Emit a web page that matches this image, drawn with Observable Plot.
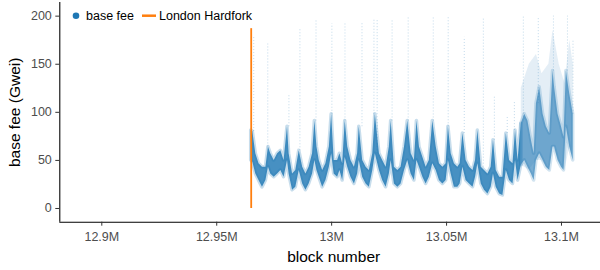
<!DOCTYPE html>
<html><head><meta charset="utf-8">
<script src="https://cdn.jsdelivr.net/npm/d3@7"></script>
<script src="https://cdn.jsdelivr.net/npm/@observablehq/plot@0.6"></script>
<style>
html,body{margin:0;padding:0;background:#fff;}
#chart{width:600px;height:270px;overflow:hidden;}
svg{font-family:"Liberation Sans",Arial,sans-serif;}
g[aria-label="x-axis tick label"], g[aria-label="y-axis tick label"],
g[aria-label="x-axis tick label"] text, g[aria-label="y-axis tick label"] text {font-size:12.5px !important; fill:#4d4d4d !important;}
g[aria-label="x-axis label"], g[aria-label="y-axis label"],
g[aria-label="x-axis label"] text, g[aria-label="y-axis label"] text {font-size:15.5px !important; fill:#000 !important;}
</style>
</head><body><div id="chart"></div>
<script>
// ---- data ----
const blocks = [12965000,12965700,12967000,12968400,12969900,12971400,12972500,12973500,12975000,12976500,
  12977900,12979300,12980800,12981500,12983000,12984400,12985900,12987400,12988800,12990200,
  12991700,12992700,12993600,12994600,12996100,12997500,12999000,13000000,13001100,13002600,
  13003600,13004800,13005900,13007000,13008400,13009900,13011300,13012000,13013500,13015000,
  13016400,13017900,13019000,13020800,13022200,13023700,13025100,13025900,13027300,13028800,
  13030200,13031700,13033100,13034600,13036000,13037100,13038200,13039700,13041100,13042500,
  13044000,13045500,13046900,13048400,13049800,13050800,13052000,13053400,13054900,13055900,
  13057100,13058500,13060000,13061500,13062600,13063600,13065100,13066500,13068000,13069400,
  13070400,13071600,13073100,13074500,13076000,13077400,13078900,13080000,13081100,13082500,
  13084000,13085400,13086900,13088100,13089100,13090500,13092000,13093400,13094900,13096300,
  13097000,13098500,13100000,13101100,13102100,13103600,13105100];
const baseFeeLow = [50,48,36,29,22,29,43,36,32.5,36,
  39.5,32.5,50,36,19,22,39.5,25.5,19,25.5,
  36,50,39.5,32.5,22,29,43,57,36,32.5,
  39.5,29,53,43,32.5,25.5,36,50,32.5,25.5,
  22,39.5,57,39.5,29,22,36,50,25.5,22,
  25.5,39.5,50,36,29,50,43,32.5,25.5,32.5,
  46.5,39.5,29,25.5,29,50,36,22,22,25.5,
  43,29,25.5,22,32.5,46.5,25.5,19,15,22,
  36,22,15,13.5,39.5,29,25.5,50,29,45,
  50,43,36,29,50,57,50,43,39.5,64,
  64,50,43,39.5,85,64,50];
const baseFeeHigh = [81,80,57,46.5,43,43,64,57,50,57,
  60,50,85,57,36,39.5,60,43,36,43,
  57,91,64,50,39.5,46.5,64,98,50,50,
  57,46.5,91,64,50,43,57,85,50,43,
  39.5,57,98,57,50,43,64,91,43,39.5,
  43,64,91,57,50,91,64,53,43,50,
  91,64,46.5,43,46.5,85,57,46.5,43,46.5,
  78,50,43,39.5,50,81,43,39.5,36,43,
  71,39.5,32.5,32.5,78,50,46.5,81,50,88,
  98,91,71,57,109,126,98,85,78,143,
  126,98,85,74,143,119,98];
// block from which the points become a looser cloud
const looseFromBlock = 13082500;
// sparse spikes of single blocks above the dense band
const spikeBlocks = [12966100,12972200,12981400,12986200,12993200,13000100,13005800,13013200,13018400,13019800,
  13026300,13033300,13044200,13050700,13057700,13066000,13070800,13076400,13079500,13083400,
  13089900,13096500,13102600,13105000];
const spikeFrom = [80,64,85,60,91,98,91,85,98,57,91,91,91,85,78,43,71,78,81,95,109,143,143,98];
const spikeTo = [179,171,119,187,195,192,194,194,197,197,195,200,199,199,178,197,116,95,112,199,199,200,200,175];
// loose cloud of points over the last part of the series
const cloudBlocks = [13082500,13086000,13089100,13091500,13094500,13096300,13099000,13101500,13103600,13105100];
const cloudLow = [45,40,50,50,40,64,50,40,64,50];
const cloudHigh = [125,150,160,140,150,185,150,130,175,150];
// London hardfork marker
const hardforkBlock = [12965000];
const hardforkFrom = [0];
const hardforkTo = [187];
// axes
const xTicks = [12900000,12950000,13000000,13050000,13100000];
const xTickLabels = ["12.9M","12.95M","13M","13.05M","13.1M"];
const yTicks = [0,50,100,150,200];
const xDomain = [12881727,13120015];
const yDomain = [-14.25,214.2];
const legendLabels = ["base fee","London Hardfork"];

// ---- build tables ----
const band = blocks.map((b,i)=>({block:b, low:baseFeeLow[i], high:baseFeeHigh[i]}));
const bandDense = band.filter(d => d.block <= looseFromBlock);
const bandLoose = band.filter(d => d.block >= looseFromBlock);
const spikes = spikeBlocks.map((b,i)=>({block:b, from:spikeFrom[i], to:spikeTo[i]}));
const cloud = cloudBlocks.map((b,i)=>({block:b, low:cloudLow[i], high:cloudHigh[i]}));
const hardfork = hardforkBlock.map((b,i)=>({block:b, from:hardforkFrom[i], to:hardforkTo[i]}));

const blue = "#1f77b4", orange = "#ff7f0e";

const plot = Plot.plot({
  width: 600, height: 270,
  marginLeft: 59.3, marginRight: -7, marginTop: 2, marginBottom: 48.3,
  style: {fontFamily: "Liberation Sans, Arial, sans-serif", fontSize: "12.5px", background: "#fff", color: "#000"},
  x: {domain: xDomain},
  y: {domain: yDomain},
  marks: [
    Plot.areaY(cloud, {x: "block", y1: "low", y2: "high", fill: blue, fillOpacity: 0.12, curve: "linear"}),
    Plot.ruleX(spikes, {x: "block", y1: "from", y2: "to", stroke: blue, strokeOpacity: 0.28, strokeWidth: 1, strokeDasharray: "1,2"}),
    Plot.areaY(bandDense, {x: "block", y1: "low", y2: "high", fill: blue, fillOpacity: 0.82, stroke: blue, strokeOpacity: 0.25, strokeWidth: 3.5, curve: "linear"}),
    Plot.areaY(bandLoose, {x: "block", y1: "low", y2: "high", fill: blue, fillOpacity: 0.6, stroke: blue, strokeOpacity: 0.2, strokeWidth: 3.5, curve: "linear"}),
    Plot.ruleX(hardfork, {x: "block", y1: "from", y2: "to", stroke: orange, strokeWidth: 1.8}),
    Plot.ruleX([xDomain[0]], {stroke: "#000", strokeWidth: 1.07}),
    Plot.ruleY([yDomain[0]], {stroke: "#000", strokeWidth: 1.07}),
    Plot.axisX({ticks: xTicks, tickFormat: d => xTickLabels[xTicks.indexOf(d)], tickSize: 4, tickPadding: 6, stroke: "#333",
      label: "block number", labelAnchor: "center", labelOffset: 40, labelArrow: "none"}),
    Plot.axisY({ticks: yTicks, tickSize: 4, tickPadding: 4, stroke: "#333",
      label: "base fee (Gwei)", labelAnchor: "center", labelOffset: 50.5, labelArrow: "none"})
  ]
});

// legend inside the panel, top-left
const svg = d3.select(plot);
const lg = svg.append("g").attr("font-size", 12.5).attr("font-family", "Liberation Sans, Arial, sans-serif")
  .attr("fill", "#000").attr("text-anchor", "start");
lg.append("circle").attr("cx", 76).attr("cy", 15.7).attr("r", 3.3).attr("fill", blue);
lg.append("text").attr("x", 86).attr("y", 20.3).attr("text-anchor", "start").text(legendLabels[0]);
lg.append("line").attr("x1", 142).attr("x2", 156).attr("y1", 15.7).attr("y2", 15.7).attr("stroke", orange).attr("stroke-width", 2.5);
lg.append("text").attr("x", 159).attr("y", 20.3).attr("text-anchor", "start").text(legendLabels[1]);

document.getElementById("chart").appendChild(plot);
</script>
</body></html>
